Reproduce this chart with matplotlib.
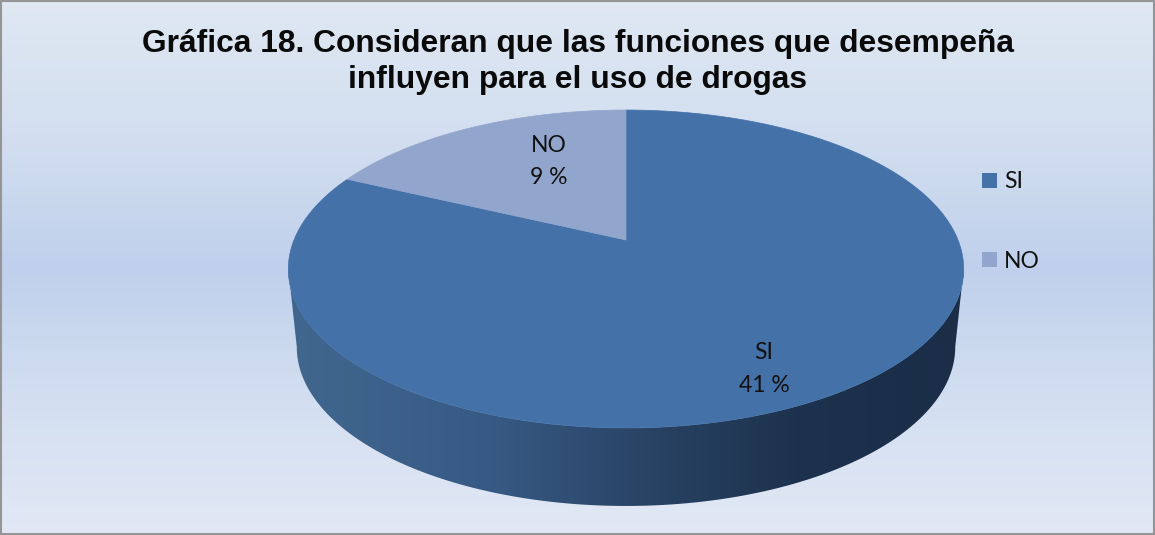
import numpy as np
import matplotlib.pyplot as plt
from matplotlib.colors import LinearSegmentedColormap
from matplotlib.patches import Polygon, Rectangle

# data
categories = ['SI', 'NO']
values = [41, 9]
colors = ['#4472a8', '#92a6cd']
title = 'Gráfica 18. Consideran que las funciones que desempeña\ninfluyen para el uso de drogas'

W, H = 1155, 535
fig = plt.figure(figsize=(W / 100, H / 100), dpi=100)
ax = fig.add_axes([0, 0, 1, 1])
ax.set_xlim(0, W)
ax.set_ylim(H, 0)
ax.axis('off')

# background gradient, top to bottom
bg = LinearSegmentedColormap.from_list('bg', ['#dfe8f3', '#d3dff0', '#c0d0ec', '#d3dff1', '#e2e8f5'])
ax.imshow(np.linspace(0, 1, 256).reshape(-1, 1), cmap=bg, extent=[0, W, H, 0], aspect='auto', zorder=0)
ax.add_patch(Rectangle((1, 1), W - 2, H - 2, fill=False, ec='#959595', lw=1.5, zorder=1))


# pie disc seen in perspective, angle measured clockwise from the top
def top_face(theta):
    x, y = np.sin(theta), np.cos(theta)
    d = 1 + 0.1824 * y
    return 626 + 332 * x / d, (240 - 109.9 * y) / d


def bottom_face(theta):
    x, y = top_face(theta)
    return 626 + 0.975 * (x - 626), y + 78


# side wall, horizontal gradient clipped to the outline of the wall
wall = LinearSegmentedColormap.from_list('wall', [(0, '#41678f'), (0.3, '#375a84'), (0.5, '#2b4668'),
                                                  (0.75, '#1d324e'), (1, '#1b2d47')])
# the silhouette of the disc turns at these two angles
t = np.linspace(np.pi * 0.558, np.pi * 1.442, 500)
xa, ya = top_face(t)
xb, yb = bottom_face(t)
outline = np.column_stack([np.r_[xa, xb[::-1]], np.r_[ya, yb[::-1]]])
wall_patch = Polygon(outline, closed=True, fc='none', ec='none', transform=ax.transData)
ax.add_patch(wall_patch)
im = ax.imshow(np.linspace(0, 1, 512).reshape(1, -1), cmap=wall, extent=[288, 964, H, 0], aspect='auto', zorder=2)
im.set_clip_path(wall_patch)
ax.set_xlim(0, W)
ax.set_ylim(H, 0)

# top slices from the values
fractions = np.array(values) / sum(values)
edges = np.concatenate([[0], np.cumsum(fractions)]) * 2 * np.pi
for i in range(len(values)):
    a = np.linspace(edges[i], edges[i + 1], 300)
    px, py = top_face(a)
    cx, cy = top_face(np.array([0.0]))[0], 240
    pts = np.column_stack([np.r_[cx, px], np.r_[cy, py]])
    ax.add_patch(Polygon(pts, closed=True, fc=colors[i], ec=colors[i], lw=0.5, zorder=3))

# data labels
font = 'Lato'
label_pos = [(764, 369), (549, 161.5)]
for name, val, (lx, ly) in zip(categories, values, label_pos):
    ax.text(lx, ly, f'{name}\n{val} %', ha='center', va='center', fontsize=16.5, family=font,
            color='#111111', linespacing=1.68, zorder=5)

# legend
legend_y = [180.5, 259.5]
for name, col, ly in zip(categories, colors, legend_y):
    ax.add_patch(Rectangle((982, ly - 7.5), 15, 15, fc=col, ec='none', zorder=5))
    ax.text(1004, ly + 1.5, name, ha='left', va='center', fontsize=16.5, family=font, color='#111111', zorder=5)

ax.text(578, 62, title, ha='center', va='center', fontsize=22.9, fontweight='bold', family='Liberation Sans',
        color='#0a0a0a', linespacing=1.22, zorder=5)

fig.savefig('out.png', dpi=100)
